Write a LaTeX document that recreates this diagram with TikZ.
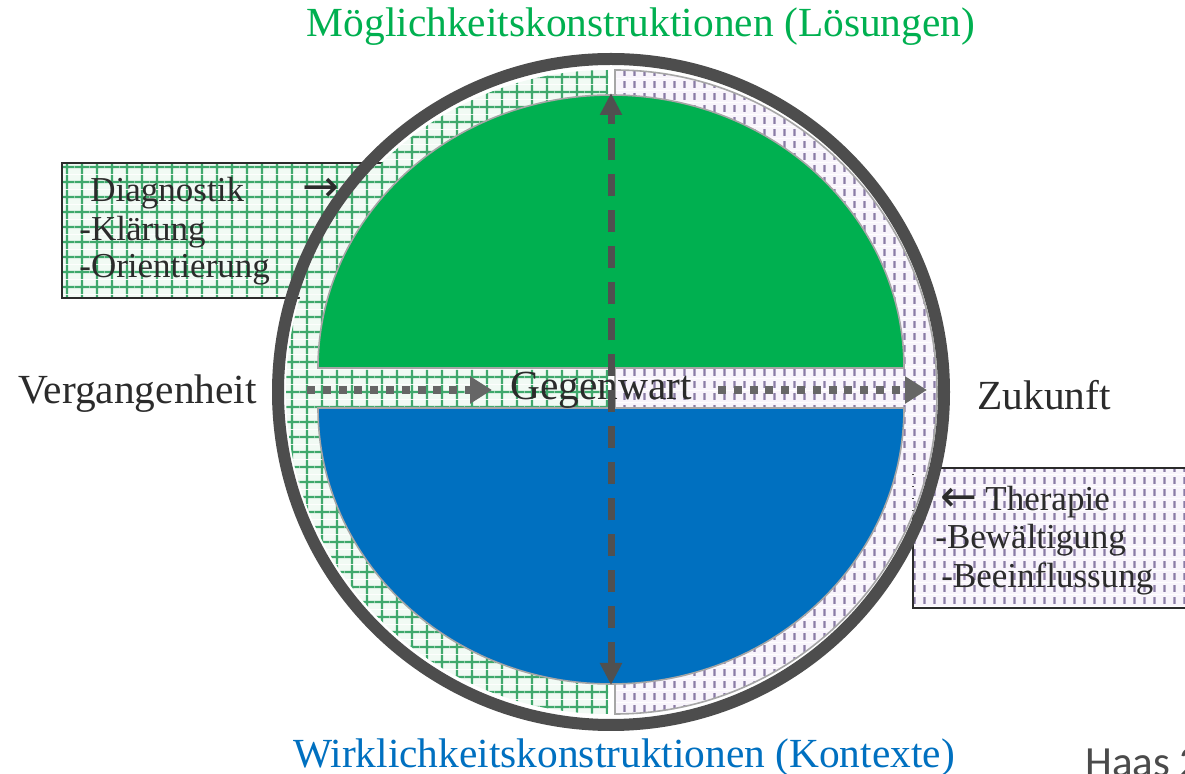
\documentclass[tikz,border=0pt]{standalone}
\usepackage{fontspec}
\setmainfont{Liberation Serif}
\newfontfamily\notefont{Carlito}
\newfontfamily\arrowfont{DejaVu Sans}
\usetikzlibrary{arrows.meta, patterns}
\definecolor{mgGreen}{HTML}{00B050}
\definecolor{wkBlue}{HTML}{0070C0}
\definecolor{ringGray}{HTML}{4D4D4D}
\definecolor{arrowGray}{HTML}{505050}
\definecolor{dotGray}{HTML}{666666}
\definecolor{rimGray}{HTML}{A6A6A6}
\definecolor{textDark}{HTML}{2B2B2B}
\definecolor{gridGreen}{HTML}{3FA86C}
\definecolor{gridBg}{HTML}{F1FAF4}
\definecolor{tickPurple}{HTML}{8A7CA6}
\definecolor{tickBg}{HTML}{F8F4FB}
\pgfdeclarepatterninherentlycolored{greengrid}{\pgfpointorigin}{\pgfqpoint{7.5pt}{7.5pt}}{\pgfqpoint{7.5pt}{7.5pt}}{%
  \pgfsetfillcolor{gridBg}
  \pgfpathrectangle{\pgfpointorigin}{\pgfqpoint{7.5pt}{7.5pt}}\pgfusepath{fill}
  \pgfsetstrokecolor{gridGreen}\pgfsetlinewidth{1.2pt}
  \pgfpathmoveto{\pgfqpoint{3.75pt}{0pt}}\pgfpathlineto{\pgfqpoint{3.75pt}{7.5pt}}
  \pgfpathmoveto{\pgfqpoint{0pt}{3.75pt}}\pgfpathlineto{\pgfqpoint{7.5pt}{3.75pt}}
  \pgfusepath{stroke}}
\pgfdeclarepatterninherentlycolored{purpleticks}{\pgfpointorigin}{\pgfqpoint{5pt}{6pt}}{\pgfqpoint{5pt}{6pt}}{%
  \pgfsetfillcolor{tickBg}
  \pgfpathrectangle{\pgfpointorigin}{\pgfqpoint{5pt}{6pt}}\pgfusepath{fill}
  \pgfsetstrokecolor{tickPurple}\pgfsetlinewidth{1.2pt}
  \pgfpathmoveto{\pgfqpoint{2.5pt}{1.2pt}}\pgfpathlineto{\pgfqpoint{2.5pt}{4.8pt}}
  \pgfusepath{stroke}}
\tikzset{
  ringLine/.style={draw=ringGray, line width=6pt},
  halfGrid/.style={pattern=greengrid},
  halfDots/.style={pattern=purpleticks, draw=rimGray, line width=0.8pt},
  capGreen/.style={fill=mgGreen, draw=rimGray, line width=0.8pt},
  capBlue/.style={fill=wkBlue, draw=rimGray, line width=0.8pt},
  arrowV/.style={{Triangle[length=11pt,width=10.5pt]}-{Triangle[length=11pt,width=10.5pt]},
                 arrowGray, line width=3.5pt, dash pattern=on 11pt off 7pt},
  arrowDot/.style={-{Triangle[length=11pt,width=13pt]}, dotGray, line width=4pt,
                   dash pattern=on 4pt off 3.9pt},
  boxGrid/.style={pattern=greengrid, draw=textDark, line width=1pt},
  boxDots/.style={pattern=purpleticks, draw=textDark, line width=1pt},
  bigText/.style={text=textDark, font=\fontsize{20.7}{24}\selectfont, inner sep=0pt},
  boxText/.style={text=textDark, font=\fontsize{17.5}{20}\selectfont, inner sep=0pt,
                  anchor=base west},
  boxArrow/.style={text=textDark, inner sep=0pt, anchor=base west,
                   font=\arrowfont\fontsize{22}{24}\selectfont},
}
\begin{document}
\begin{tikzpicture}[x=0.5pt, y=-0.5pt]
  \useasboundingbox (0,0) rectangle (1185,774);
  \fill[white] (0,0) rectangle (1185,774);
  \draw[boxGrid] (62,163) rectangle (420,298);
  \draw[boxDots] (913,468) rectangle (1195,608);
  \fill[halfGrid] (608,70) arc[start angle=270, end angle=90, radius=322] -- cycle;
  \filldraw[halfDots] (615,70) arc[start angle=-90, end angle=90, radius=322] -- cycle;
  \filldraw[capGreen] (318,368) arc[start angle=180, end angle=360, x radius=293, y radius=273] -- cycle;
  \filldraw[capBlue] (318,408) arc[start angle=180, end angle=0, x radius=293, y radius=276] -- cycle;
  \draw[ringLine] (611,392) circle[radius=333];
  \node[bigText, anchor=base] (now) at (601,400) {Gegenwart};
  \coordinate (pastL) at (307,390);
  \coordinate (pastR) at (492,390);
  \coordinate (futL) at (718,390);
  \coordinate (futR) at (927,390);
  \coordinate (top) at (611,93);
  \coordinate (bot) at (611,685);
  \draw[arrowDot] (pastL) -- (pastR);
  \draw[arrowDot] (futL) -- (futR);
  \draw[arrowV] (bot) -- (top);
  \node[bigText, anchor=base west] (past) at (18,404) {Vergangenheit};
  \node[bigText, anchor=base west] (future) at (977,410) {Zukunft};
  \node[bigText, anchor=base, text=mgGreen] (moegl) at (641,37) {Möglichkeitskonstruktionen (Lösungen)};
  \node[bigText, anchor=base, text=wkBlue] (wirkl) at (624,768) {Wirklichkeitskonstruktionen (Kontexte)};
  \node[boxText] (diag) at (90,202) {Diagnostik};
  \node[boxArrow] (diagArr) at (302,202) {→};
  \node[boxText] (klaer) at (79,241) {-Klärung};
  \node[boxText] (orient) at (79,278) {-Orientierung};
  \node[boxArrow] (therArr) at (940,512) {←};
  \node[boxText] (ther) at (985,511) {Therapie};
  \node[boxText] (bewael) at (935,549) {-Bewältigung};
  \node[boxText] (beeinf) at (941,588) {-Beeinflussung};
  \node[anchor=base west, inner sep=0pt, text=textDark!85, font=\notefont\fontsize{21.5}{24}\selectfont] (src) at (1085,777) {Haas 2};
\end{tikzpicture}
\end{document}
